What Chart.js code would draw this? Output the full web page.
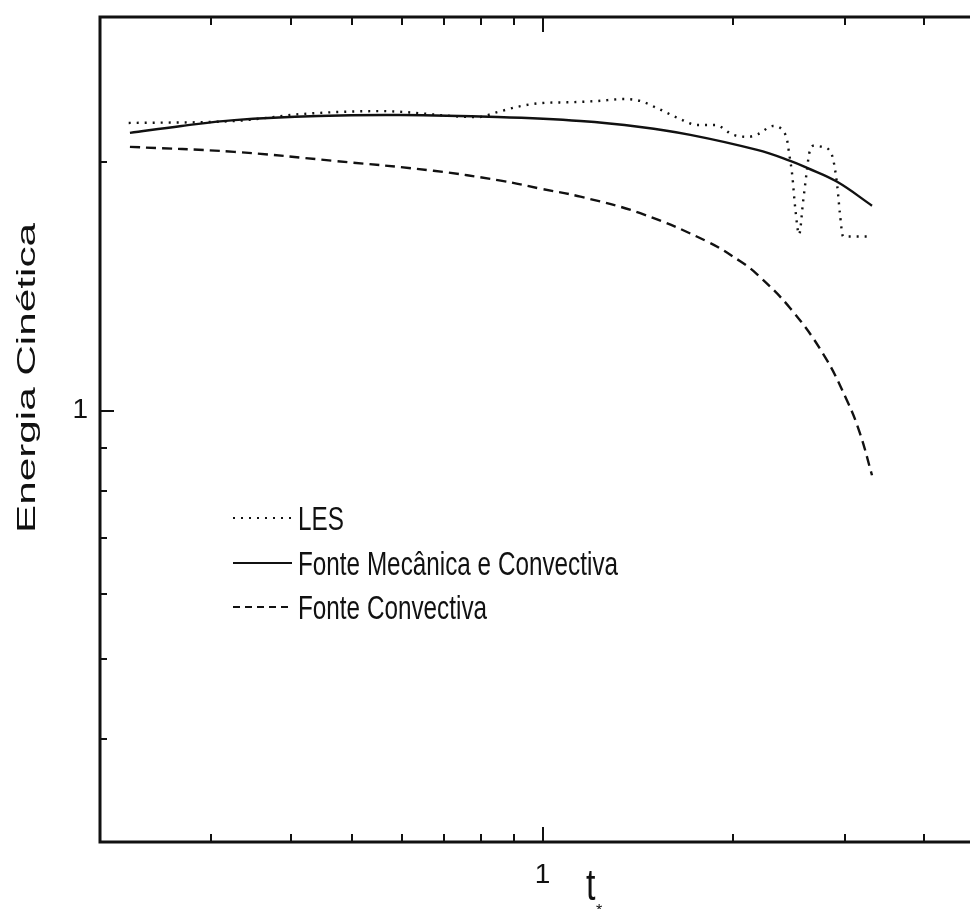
<!DOCTYPE html>
<html>
<head>
<meta charset="utf-8">
<script src="https://cdn.jsdelivr.net/npm/chart.js@4.4.1/dist/chart.umd.min.js"></script>
<style>
  html, body { margin: 0; padding: 0; overflow: hidden; background: #fff; }
</style>
</head>
<body>
<canvas id="myChart" width="1000" height="909"></canvas>
<script>
// LES
var lesT = [0.222, 0.326, 0.415, 0.555, 0.790, 0.849, 0.923, 0.993, 1.107, 1.221, 1.342, 1.427, 1.518, 1.651, 1.756, 1.875, 2.001, 2.113, 2.191, 2.314, 2.399, 2.434, 2.453, 2.480, 2.506, 2.543, 2.580, 2.618, 2.637, 2.676, 2.764, 2.836, 2.877, 2.920, 2.951, 2.984, 3.291];
var lesE = [2.232, 2.244, 2.288, 2.307, 2.269, 2.301, 2.339, 2.359, 2.365, 2.373, 2.386, 2.373, 2.326, 2.256, 2.219, 2.219, 2.159, 2.147, 2.164, 2.213, 2.183, 2.129, 2.047, 1.931, 1.767, 1.635, 1.792, 1.964, 2.047, 2.094, 2.088, 2.070, 2.019, 1.879, 1.728, 1.626, 1.626];
// Fonte Mecanica e Convectiva
var mecT = [0.223, 0.269, 0.326, 0.442, 0.597, 0.849, 1.148, 1.427, 1.712, 2.183, 2.462, 2.618, 2.920, 3.315];
var mecE = [2.171, 2.213, 2.250, 2.276, 2.282, 2.269, 2.244, 2.207, 2.159, 2.070, 2.008, 1.969, 1.894, 1.772];
// Fonte Convectiva
var convT = [0.223, 0.326, 0.468, 0.673, 0.859, 0.993, 1.148, 1.427, 1.821, 2.053, 2.183, 2.462, 2.775, 3.028, 3.174, 3.315];
var convE = [2.088, 2.059, 2.008, 1.953, 1.900, 1.858, 1.817, 1.735, 1.603, 1.517, 1.463, 1.331, 1.172, 1.028, 0.938, 0.835];

var seriesNames = ["LES", "Fonte Mecânica e Convectiva", "Fonte Convectiva"];
var xTicks = [0.3, 0.4, 0.5, 0.6, 0.7, 0.8, 0.9, 1, 2, 3, 4];
var yTicks = [0.4, 0.5, 0.6, 0.7, 0.8, 0.9, 1, 2];
var majorTicks = [1];

function pts(xs, ys) {
    return xs.map(function (x, i) { return { x: x, y: ys[i] }; });
}

var FONT = "'Liberation Sans', Arial, Helvetica, sans-serif";

// frame, inward ticks, stretched texts and legend
var decor = {
    id: "decor",
    afterDraw: function (chart) {
        var ctx = chart.ctx;
        var a = chart.chartArea;
        var xs = chart.scales.x, ys = chart.scales.y;
        ctx.save();
        ctx.strokeStyle = "#111";
        ctx.lineCap = "butt";

        ctx.lineWidth = 2;
        xTicks.forEach(function (v) {
            var px = Math.round(xs.getPixelForValue(v));
            var len = majorTicks.indexOf(v) >= 0 ? 15 : 8;
            ctx.beginPath();
            ctx.moveTo(px, a.bottom); ctx.lineTo(px, a.bottom - len);
            ctx.moveTo(px, a.top); ctx.lineTo(px, a.top + len);
            ctx.stroke();
        });
        yTicks.forEach(function (v) {
            var py = Math.round(ys.getPixelForValue(v));
            var len = majorTicks.indexOf(v) >= 0 ? 14 : 7;
            ctx.beginPath();
            ctx.moveTo(a.left, py); ctx.lineTo(a.left + len, py);
            ctx.moveTo(a.right, py); ctx.lineTo(a.right - len, py);
            ctx.stroke();
        });

        ctx.lineWidth = 3;
        ctx.strokeRect(a.left, a.top, a.right - a.left, a.bottom - a.top);

        ctx.fillStyle = "#111";
        // y title
        ctx.save();
        ctx.translate(35, 378);
        ctx.rotate(-Math.PI / 2);
        ctx.scale(1.69, 1);
        ctx.font = "25px " + FONT;
        ctx.textAlign = "center";
        ctx.textBaseline = "alphabetic";
        ctx.fillText("Energia Cinética", 0, 0);
        ctx.restore();

        // x title t*
        ctx.save();
        ctx.translate(586, 900);
        ctx.scale(1, 1.3);
        ctx.font = "34px " + FONT;
        ctx.textAlign = "left";
        ctx.fillText("t", 0, 0);
        ctx.restore();
        ctx.font = "16px " + FONT;
        ctx.fillText("*", 596, 916);

        // legend
        var rows = [518, 563, 607];
        var dashes = [[2, 6], [], [7, 5]];
        rows.forEach(function (y, i) {
            ctx.save();
            ctx.lineWidth = 2.2;
            ctx.setLineDash(dashes[i]);
            ctx.beginPath();
            ctx.moveTo(233, y); ctx.lineTo(292, y);
            ctx.stroke();
            ctx.restore();
            ctx.save();
            ctx.translate(298, y + 12);
            ctx.scale(1, 1.38);
            ctx.font = "24.3px " + FONT;
            ctx.textAlign = "left";
            ctx.fillText(seriesNames[i], 0, 0);
            ctx.restore();
        });
        ctx.restore();
    }
};

new Chart("myChart", {
    type: "line",
    data: {
        datasets: [
            {
                label: seriesNames[0],
                data: pts(lesT, lesE),
                borderColor: "#111",
                borderWidth: 2.4,
                borderDash: [2, 6],
                pointRadius: 0,
                cubicInterpolationMode: "monotone",
            },
            {
                label: seriesNames[1],
                data: pts(mecT, mecE),
                borderColor: "#111",
                borderWidth: 2.4,
                pointRadius: 0,
                tension: 0.4,
            },
            {
                label: seriesNames[2],
                data: pts(convT, convE),
                borderColor: "#111",
                borderWidth: 2.4,
                borderDash: [10, 6],
                pointRadius: 0,
                tension: 0.4,
            },
        ],
    },
    options: {
        responsive: false,
        animation: false,
        layout: {
            padding: { top: 17, right: 15, left: 0, bottom: 0 },
        },
        plugins: {
            legend: { display: false },
            tooltip: { enabled: false },
        },
        scales: {
            x: {
                type: "logarithmic",
                min: 0.2,
                max: 5,
                border: { display: false },
                grid: { display: false, drawTicks: false },
                ticks: {
                    autoSkip: false,
                    maxRotation: 0,
                    padding: 16,
                    color: "#111",
                    font: { family: FONT, size: 28 },
                    callback: function (v) { return v === 1 ? "1" : ""; },
                },
                afterFit: function (s) {
                    s.height = 67;
                    s.paddingLeft = 0;
                    s.paddingRight = 0;
                },
            },
            y: {
                type: "logarithmic",
                min: 0.3,
                max: 3,
                border: { display: false },
                grid: { display: false, drawTicks: false },
                ticks: {
                    autoSkip: false,
                    padding: 12,
                    color: "#111",
                    font: { family: FONT, size: 28 },
                    callback: function (v) { return v === 1 ? "1" : ""; },
                },
                afterFit: function (s) {
                    s.width = 100;
                    s.paddingTop = 0;
                    s.paddingBottom = 0;
                },
            },
        },
    },
    plugins: [decor],
});
</script>
</body>
</html>
